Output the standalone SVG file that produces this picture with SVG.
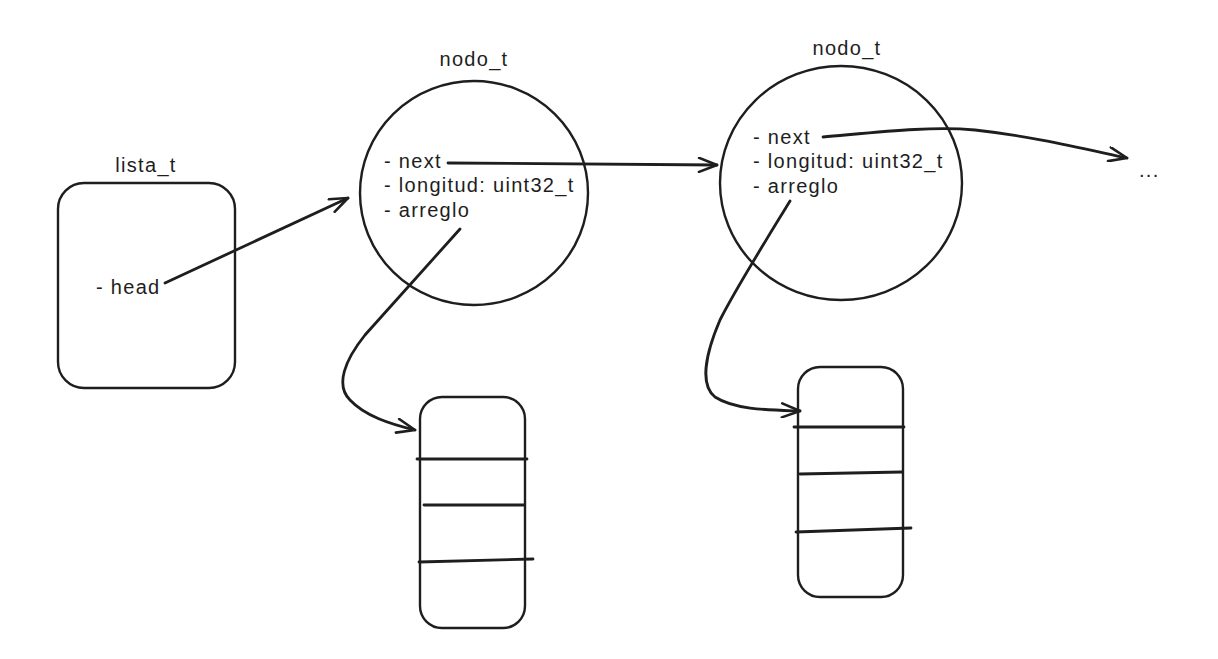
<svg xmlns="http://www.w3.org/2000/svg" width="1218" height="659" viewBox="0 0 1218 659">
<style>
.sh{fill:none;stroke:#1e1e1e;stroke-width:2.4;stroke-linecap:round;stroke-linejoin:round}
.ln{fill:none;stroke:#1e1e1e;stroke-width:2.8;stroke-linecap:round}
.t{font-family:"Liberation Sans","Noto Sans",sans-serif;font-size:20px;letter-spacing:1.3px;fill:#1e1e1e}
.c{text-anchor:middle}
</style>
<defs>
<marker id="ah" markerWidth="22" markerHeight="16" refX="20" refY="8" orient="auto" markerUnits="userSpaceOnUse">
<path d="M2,1 L20,8 L2,15" fill="none" stroke="#1e1e1e" stroke-width="2.6" stroke-linecap="round" stroke-linejoin="round"/>
</marker>
</defs>
<rect width="1218" height="659" fill="#ffffff"/>
<g id="lista">
<rect class="sh" x="58" y="183" width="177" height="205" rx="26"/>
<text class="t c" x="146" y="172">lista_t</text>
<text class="t" x="96" y="294">- head</text>
</g>
<g id="nodo1">
<ellipse class="sh" cx="474" cy="193" rx="114" ry="112"/>
<text class="t c" x="474" y="66">nodo_t</text>
<text class="t" x="384" y="168">- next</text>
<text class="t" x="384" y="192">- longitud: uint32_t</text>
<text class="t" x="384" y="217">- arreglo</text>
</g>
<g id="nodo2">
<ellipse class="sh" cx="841" cy="183" rx="121" ry="117"/>
<text class="t c" x="847" y="55">nodo_t</text>
<text class="t" x="753" y="144">- next</text>
<text class="t" x="753" y="168">- longitud: uint32_t</text>
<text class="t" x="753" y="193">- arreglo</text>
</g>
<g id="arreglo1">
<rect class="sh" x="420" y="397" width="105" height="231" rx="22"/>
<line class="ln" x1="417" y1="459" x2="527" y2="459"/>
<line class="ln" x1="424" y1="505" x2="524" y2="505"/>
<line class="ln" x1="419" y1="562" x2="533" y2="559"/>
</g>
<g id="arreglo2">
<rect class="sh" x="798" y="367" width="105" height="230" rx="22"/>
<line class="ln" x1="794" y1="427" x2="904" y2="427"/>
<line class="ln" x1="800" y1="474" x2="902" y2="472"/>
<line class="ln" x1="796" y1="532" x2="911" y2="528"/>
</g>
<g id="fin">
<text class="t" x="1139" y="177">...</text>
</g>
<g id="connectors">
<path class="ln" d="M165,283 L348,198" marker-end="url(#ah)"/>
<path class="ln" d="M448,163 L717,165" marker-end="url(#ah)"/>
<path class="ln" d="M823,137 C880,132 930,126 975,130 C1030,136 1080,148 1127,158" marker-end="url(#ah)"/>
<path class="ln" d="M460,229 L365,335 C345,360 335,385 350,400 C365,416 390,424 415,430" marker-end="url(#ah)"/>
<path class="ln" d="M790,201 C760,250 735,290 720,320 C705,355 700,385 715,397 C735,410 770,410 800,411" marker-end="url(#ah)"/>
</g>
</svg>
